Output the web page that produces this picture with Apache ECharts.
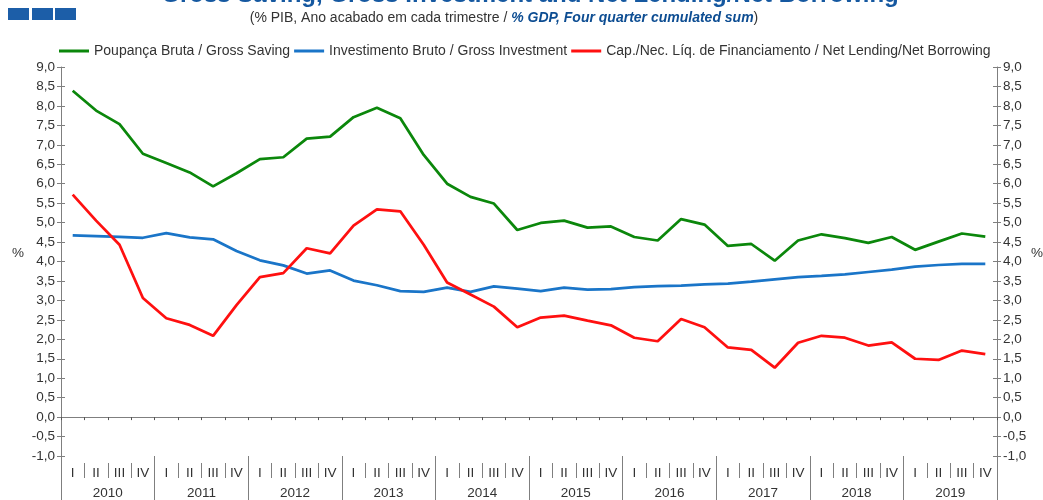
<!DOCTYPE html>
<html>
<head>
<meta charset="utf-8">
<script src="https://cdn.jsdelivr.net/npm/echarts@6/dist/echarts.min.js"></script>
<style>
  html, body { margin: 0; padding: 0; background: #fff; }
  #chart { width: 1043px; height: 500px; }
</style>
</head>
<body>
<div id="chart"></div>
<script>
// dados (% PIB, soma móvel de 4 trimestres)
var years = ['2010', '2011', '2012', '2013', '2014', '2015', '2016', '2017', '2018', '2019'];
var quarterNames = ['I', 'II', 'III', 'IV'];

var poupanca = [8.39, 7.88, 7.53, 6.77, 6.53, 6.29, 5.93, 6.27, 6.63, 6.68,
  7.16, 7.21, 7.71, 7.95, 7.68, 6.74, 6.00, 5.66, 5.49, 4.81,
  4.99, 5.05, 4.87, 4.90, 4.63, 4.54, 5.09, 4.95, 4.40, 4.45,
  4.02, 4.54, 4.70, 4.60, 4.48, 4.63, 4.30, 4.51, 4.72, 4.64];

var investimento = [4.67, 4.65, 4.63, 4.61, 4.73, 4.62, 4.57, 4.27, 4.03, 3.90,
  3.69, 3.77, 3.51, 3.39, 3.24, 3.22, 3.33, 3.22, 3.36, 3.30,
  3.24, 3.33, 3.28, 3.29, 3.34, 3.37, 3.38, 3.41, 3.43, 3.48,
  3.54, 3.60, 3.63, 3.67, 3.73, 3.79, 3.87, 3.91, 3.94, 3.94];

var capNec = [5.72, 5.05, 4.43, 3.06, 2.54, 2.37, 2.09, 2.88, 3.60, 3.70,
  4.34, 4.21, 4.92, 5.34, 5.29, 4.43, 3.46, 3.15, 2.84, 2.31,
  2.56, 2.61, 2.48, 2.36, 2.04, 1.95, 2.52, 2.31, 1.79, 1.73,
  1.27, 1.91, 2.09, 2.04, 1.84, 1.92, 1.50, 1.47, 1.71, 1.62];

var seriesNames = [
  'Poupança Bruta / Gross Saving',
  'Investimento Bruto / Gross Investment',
  'Cap./Nec. Líq. de Financiamento / Net Lending/Net Borrowing'
];
var seriesColors = ['#0b870b', '#1a75c8', '#ff1010'];

// eixo de categorias: um item por trimestre
var quarters = [];
years.forEach(function (y) {
  quarterNames.forEach(function (q) { quarters.push(y + '|' + q); });
});

var font = '"Liberation Sans", Arial, sans-serif';
var axisGray = '#7f7f7f';
var textColor = '#333333';

function fmt(v) {
  return v.toFixed(1).replace('.', ',');
}

var chart = echarts.init(document.getElementById('chart'), null, { renderer: 'canvas' });

var yBase = { type: 'value', min: -1, max: 9, interval: 0.5, splitLine: { show: false } };

var option = {
  animation: false,
  backgroundColor: '#ffffff',
  textStyle: { fontFamily: font },
  grid: { left: 61, right: 46, top: 67, bottom: 44 },
  legend: {
    left: 54,
    top: 39,
    icon: 'rect',
    itemWidth: 30,
    itemHeight: 3,
    itemGap: 4,
    textStyle: { fontSize: 14, color: textColor, fontFamily: font },
    data: seriesNames
  },
  graphic: [
    { type: 'rect', shape: { x: 8, y: 8, width: 21, height: 12 }, style: { fill: '#1c5ea8' } },
    { type: 'rect', shape: { x: 32, y: 8, width: 21, height: 12 }, style: { fill: '#1c5ea8' } },
    { type: 'rect', shape: { x: 55, y: 8, width: 21, height: 12 }, style: { fill: '#1c5ea8' } },
    {
      type: 'text', x: 530, y: -4.5,
      style: {
        text: 'Gross Saving, Gross Investment and Net Lending/Net Borrowing',
        font: 'bold 24px ' + font, fill: '#1558a0', align: 'center', verticalAlign: 'middle'
      }
    },
    {
      type: 'text', x: 504, y: 18,
      style: {
        text: '{n|(% PIB, Ano acabado em cada trimestre / }{b|% GDP, Four quarter cumulated sum}{n|)}',
        align: 'center', verticalAlign: 'middle',
        rich: {
          n: { fontSize: 14, fontFamily: font, fill: '#333333' },
          b: { fontSize: 14, fontFamily: font, fontWeight: 'bold', fontStyle: 'italic', fill: '#0d4d92' }
        }
      }
    },
    { type: 'text', x: 18, y: 253, style: { text: '%', font: '13.5px ' + font, fill: textColor, align: 'center', verticalAlign: 'middle' } },
    { type: 'text', x: 1037, y: 253, style: { text: '%', font: '13.5px ' + font, fill: textColor, align: 'center', verticalAlign: 'middle' } }
  ],
  xAxis: [
    {
      // trimestres I..IV
      type: 'category', data: quarters, position: 'bottom', offset: 7,
      axisLine: { show: false, onZero: false },
      axisTick: { show: true, interval: 0, length: 15, lineStyle: { color: axisGray } },
      axisLabel: {
        interval: 0, margin: 3, fontSize: 13.5, color: textColor,
        formatter: function (v) { return v.split('|')[1]; }
      },
      splitLine: { show: false }
    },
    {
      // anos
      type: 'category', data: years, position: 'bottom', offset: 0,
      axisLine: { show: false, onZero: false },
      axisTick: { show: true, interval: 0, length: 44, lineStyle: { color: axisGray } },
      axisLabel: { interval: 0, margin: 30, fontSize: 13.5, color: textColor },
      splitLine: { show: false }
    },
    {
      // linha do zero
      type: 'category', data: quarters, position: 'bottom',
      axisLine: { show: true, onZero: true, onZeroAxisIndex: 0, lineStyle: { color: axisGray, width: 1 } },
      axisTick: { show: true, interval: 0, length: 3, lineStyle: { color: '#555555' } },
      axisLabel: { show: false },
      splitLine: { show: false }
    }
  ],
  yAxis: [
    Object.assign({}, yBase, {
      position: 'left',
      axisLine: { show: true, lineStyle: { color: axisGray } },
      axisTick: { show: true, length: 4, lineStyle: { color: axisGray } },
      axisLabel: { fontSize: 13.5, color: textColor, margin: 6, formatter: fmt }
    }),
    Object.assign({}, yBase, {
      position: 'left',
      axisLine: { show: false },
      axisTick: { show: true, inside: true, length: 4, lineStyle: { color: axisGray } },
      axisLabel: { show: false }
    }),
    Object.assign({}, yBase, {
      position: 'right',
      axisLine: { show: true, lineStyle: { color: axisGray } },
      axisTick: { show: true, length: 4, lineStyle: { color: axisGray } },
      axisLabel: { fontSize: 13.5, color: textColor, margin: 6, formatter: fmt }
    }),
    Object.assign({}, yBase, {
      position: 'right',
      axisLine: { show: false },
      axisTick: { show: true, inside: true, length: 4, lineStyle: { color: axisGray } },
      axisLabel: { show: false }
    })
  ],
  series: [poupanca, investimento, capNec].map(function (d, i) {
    return {
      name: seriesNames[i],
      type: 'line',
      xAxisIndex: 0,
      yAxisIndex: 0,
      data: d,
      symbol: 'none',
      color: seriesColors[i],
      lineStyle: { width: 2.75, color: seriesColors[i] },
      z: 3 + i
    };
  })
};

chart.setOption(option);
</script>
</body>
</html>
